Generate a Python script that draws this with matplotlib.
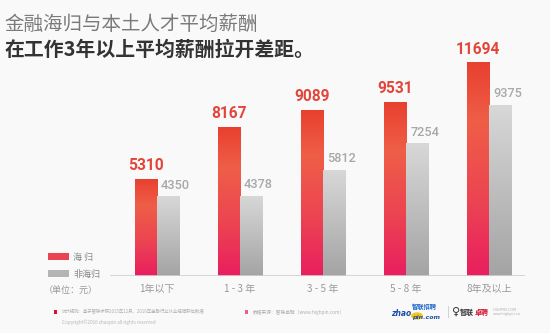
import matplotlib
matplotlib.use('Agg')

import numpy                  as np
import matplotlib.pyplot      as plt
from matplotlib.colors        import LinearSegmentedColormap
from matplotlib.patches       import Rectangle

plt.rcParams['font.family'] = ['Noto Sans CJK SC', 'DejaVu Sans']

# ===== Data (unit: yuan)
years      = ['1年以下', '1-3年', '3-5年', '5-8年', '8年及以上']
returnee   = [5310, 8167, 9089, 9531, 11694]     # 海归
local      = [4350, 4378, 5812, 7254, 9375]      # 非海归

# ===== Colours
red_cm  = LinearSegmentedColormap.from_list('red_bar',
            [(0.0, '#e91e5f'), (0.35, '#ec4452'), (0.72, '#ef5e47'), (1.0, '#e8402f')])
gray_cm = LinearSegmentedColormap.from_list('gray_bar', ['#a4a4a4', '#d8d8d8'])
bg      = '#f9f9f9'

fig = plt.figure(figsize=(5.5, 3.33), dpi=100)
fig.patch.set_facecolor(bg)

ax = fig.add_axes([0.2, 0.1712, 0.7545, 0.7688])
ax.set_facecolor('none')
for s in ax.spines.values(): s.set_visible(False)

x   = np.arange(len(years))
w   = 0.265
grad = np.linspace(0, 1, 256).reshape(-1, 1)

def gradient_bar(xc, h, cmap):
   bar = ax.bar(xc, h, w, color='none', edgecolor='none')[0]
   im  = ax.imshow(grad, cmap=cmap, origin='lower', aspect='auto',
                   extent=[xc - w/2, xc + w/2, 0, h], zorder=2)
   im.set_clip_path(bar)

for i in range(len(years)):
   gradient_bar(x[i] - w/2, returnee[i], red_cm)
   gradient_bar(x[i] + w/2, local[i], gray_cm)

   ax.annotate('%i' % returnee[i], (x[i] - w/2, returnee[i]), xytext=(0, 4),
               textcoords='offset points', ha='center', va='bottom',
               fontsize=11.2, fontweight='bold', color='#e2463a',
               family=['Roboto', 'DejaVu Sans'])
   ax.annotate('%i' % local[i], (x[i] + w/2 + 0.09, local[i]), xytext=(0, 3.5),
               textcoords='offset points', ha='center', va='bottom',
               fontsize=9.2, fontweight='medium', color='#a8a8a8',
               family=['Roboto', 'DejaVu Sans'])

ax.axhline(0, color='#cfcfcf', linewidth=1.2, zorder=3)
ax.set_xlim(-0.566, 4.43)
ax.set_ylim(0, 14004)
ax.set_yticks([])
ax.set_xticks(x)
ax.set_xticklabels([' '.join(y) if '-' in y else y for y in years],
                   fontsize=7.2, color='#9a9a9a')
ax.tick_params(axis='x', length=0, pad=6)

# ===== Title
fig.text(0.009, 0.928, '金融海归与本土人才平均薪酬', fontsize=14, color='#7a7a7a',
         ha='left', va='center')
fig.text(0.009, 0.853, '在工作3年以上平均薪酬拉开差距。', fontsize=14.3, color='#333333',
         fontweight='bold', ha='left', va='center')

# ===== Legend
H = 333.0
fig.patches.append(Rectangle((48/550, 1 - 260/H), 21/550, 7/H, transform=fig.transFigure,
                             facecolor='#ea4352', edgecolor='none'))
fig.patches.append(Rectangle((48/550, 1 - 277/H), 21/550, 7/H, transform=fig.transFigure,
                             facecolor='#b4b4b4', edgecolor='none'))
fig.text(73/550, 1 - 257/H, '海 归', fontsize=6.5, color='#888888', va='center')
fig.text(73/550, 1 - 274/H, '非海归', fontsize=6.5, color='#888888', va='center')
fig.text(44/550, 1 - 290/H, '（单位：元）', fontsize=6.5, color='#999999', va='center')

# ===== Footer
fig.patches.append(Rectangle((54/550, 1 - 314/H), 3/550, 4/H, transform=fig.transFigure,
                             facecolor='#d3132f', edgecolor='none'))
fig.text(62/550, 1 - 312/H, '统计规则：基于智联求职2015年12月、2016年金融行业从业经验职位数据',
         fontsize=3.2, color='#b0b0b0', va='center')
fig.text(62/550, 1 - 322/H, 'Copyright©2016 zhaopin all rights reserved',
         fontsize=3.4, color='#b8b8b8', va='center')
fig.patches.append(Rectangle((245/550, 1 - 314/H), 3/550, 4/H, transform=fig.transFigure,
                             facecolor='#ea5d9a', edgecolor='none'))
fig.text(253/550, 1 - 312/H, '数据来源：智联卓聘（www.highpin.com）',
         fontsize=3.4, color='#b0b0b0', va='center')

# logos
fig.text(391/550, 1 - 314/H, 'zhao', fontsize=5.5, color='#1e4fa6', fontweight='bold',
         style='italic', va='center', family=['DejaVu Sans'])
fig.patches.append(plt.Circle((417/550, 1 - 316/H), 6/550, transform=fig.transFigure,
                              facecolor='#f2c318', edgecolor='none'))
fig.text(412/550, 1 - 307/H, '智联招聘', fontsize=4.5, color='#1e66c8', fontweight='bold',
         va='center')
fig.text(412/550, 1 - 317/H, 'pin.com', fontsize=4.5, color='#1e4fa6', fontweight='bold',
         style='italic', va='center', family=['DejaVu Sans'])
fig.text(447/550, 1 - 312/H, '|', fontsize=7, color='#bbbbbb', va='center')
fig.text(452/550, 1 - 312/H, '♀', fontsize=8, color='#333333', va='center',
         family=['DejaVu Sans'])
fig.text(460/550, 1 - 312/H, '智联', fontsize=5, color='#333333', fontweight='bold', va='center')
fig.text(475/550, 1 - 312/H, '卓聘', fontsize=5, color='#d3132f', fontweight='bold', va='center')
fig.text(493/550, 1 - 312/H, 'HIGHPIN.COM\nwww.highpin.cn', fontsize=2.5, color='#b0b0b0',
         va='center', family=['DejaVu Sans'], linespacing=1.0)

plt.savefig('out.png', dpi=100, facecolor=bg)
plt.close()
